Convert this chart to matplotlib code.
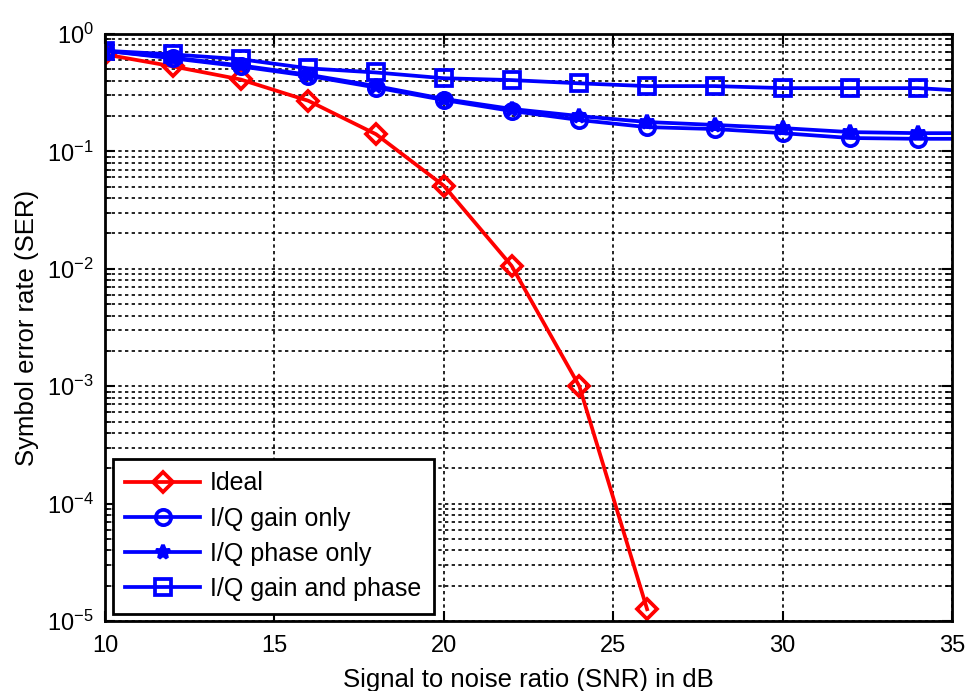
import numpy as np
from matplotlib import pyplot as plt

plt.rcParams['font.family'] = ['Liberation Sans', 'DejaVu Sans']
plt.rcParams['mathtext.fontset'] = 'custom'
plt.rcParams['mathtext.rm'] = 'Liberation Sans'

snr_ideal = [10, 12, 14, 16, 18, 20, 22, 24, 26]
ser_ideal = [0.67, 0.53, 0.41, 0.27, 0.14, 0.051, 0.0106, 0.001, 1.26e-5]

snr = [10, 12, 14, 16, 18, 20, 22, 24, 26, 28, 30, 32, 34, 35]
ser_gain = [0.72, 0.62, 0.53, 0.44, 0.35, 0.274, 0.221, 0.185, 0.161, 0.155, 0.143, 0.13, 0.128, 0.128]
ser_phase = [0.72, 0.63, 0.54, 0.45, 0.36, 0.28, 0.23, 0.2, 0.178, 0.168, 0.158, 0.146, 0.143, 0.143]
ser_both = [0.72, 0.67, 0.61, 0.51, 0.47, 0.42, 0.405, 0.38, 0.36, 0.36, 0.346, 0.346, 0.346, 0.333]

fig = plt.figure(figsize=(9.68, 6.91), dpi=100)
ax = fig.add_axes([0.1085, 0.1013, 0.875, 0.8495])

marks = list(range(len(snr) - 1))
ax.semilogy(snr_ideal, ser_ideal, color='red', lw=2.7, marker='D', ms=10, mfc='none', mew=2.7, label='Ideal')
ax.semilogy(snr, ser_gain, color='blue', lw=2.7, marker='o', ms=11, mfc='none', mew=2.7, markevery=marks, label='I/Q gain only')
ax.semilogy(snr, ser_phase, color='blue', lw=2.7, marker='*', ms=10, mew=2.7, markevery=marks, label='I/Q phase only')
ax.semilogy(snr, ser_both, color='blue', lw=2.7, marker='s', ms=11, mfc='none', mew=2.7, markevery=marks, label='I/Q gain and phase')

ax.set_xlim(10, 35)
ax.set_ylim(1e-5, 1)
ax.set_xticks([10, 15, 20, 25, 30, 35])
ax.grid(True, which='major', color='black', linestyle=(0, (2, 2)), lw=1.2)
ax.grid(True, which='minor', axis='y', color='black', linestyle=(0, (2, 2)), lw=1.2)
ax.set_axisbelow(True)
ax.tick_params(which='both', direction='in', top=True, right=True, labelsize=17)
ax.tick_params(which='major', length=7, width=1.5)
ax.tick_params(which='minor', length=4, width=1.2)
ax.tick_params(axis='x', pad=10)
ax.tick_params(axis='y', pad=8)
for s in ax.spines.values():
    s.set_linewidth(2)

ax.set_xlabel('Signal to noise ratio (SNR) in dB', fontsize=18.5, labelpad=8)
ax.set_ylabel('Symbol error rate (SER)', fontsize=18.5, labelpad=6)

leg = ax.legend(loc='lower left', fontsize=18, fancybox=False, framealpha=1,
                edgecolor='black', handlelength=3.0, borderaxespad=0.3,
                labelspacing=0.45, handletextpad=0.4, borderpad=0.5)
leg.get_frame().set_linewidth(2)

fig.savefig('out.png', dpi=100)
